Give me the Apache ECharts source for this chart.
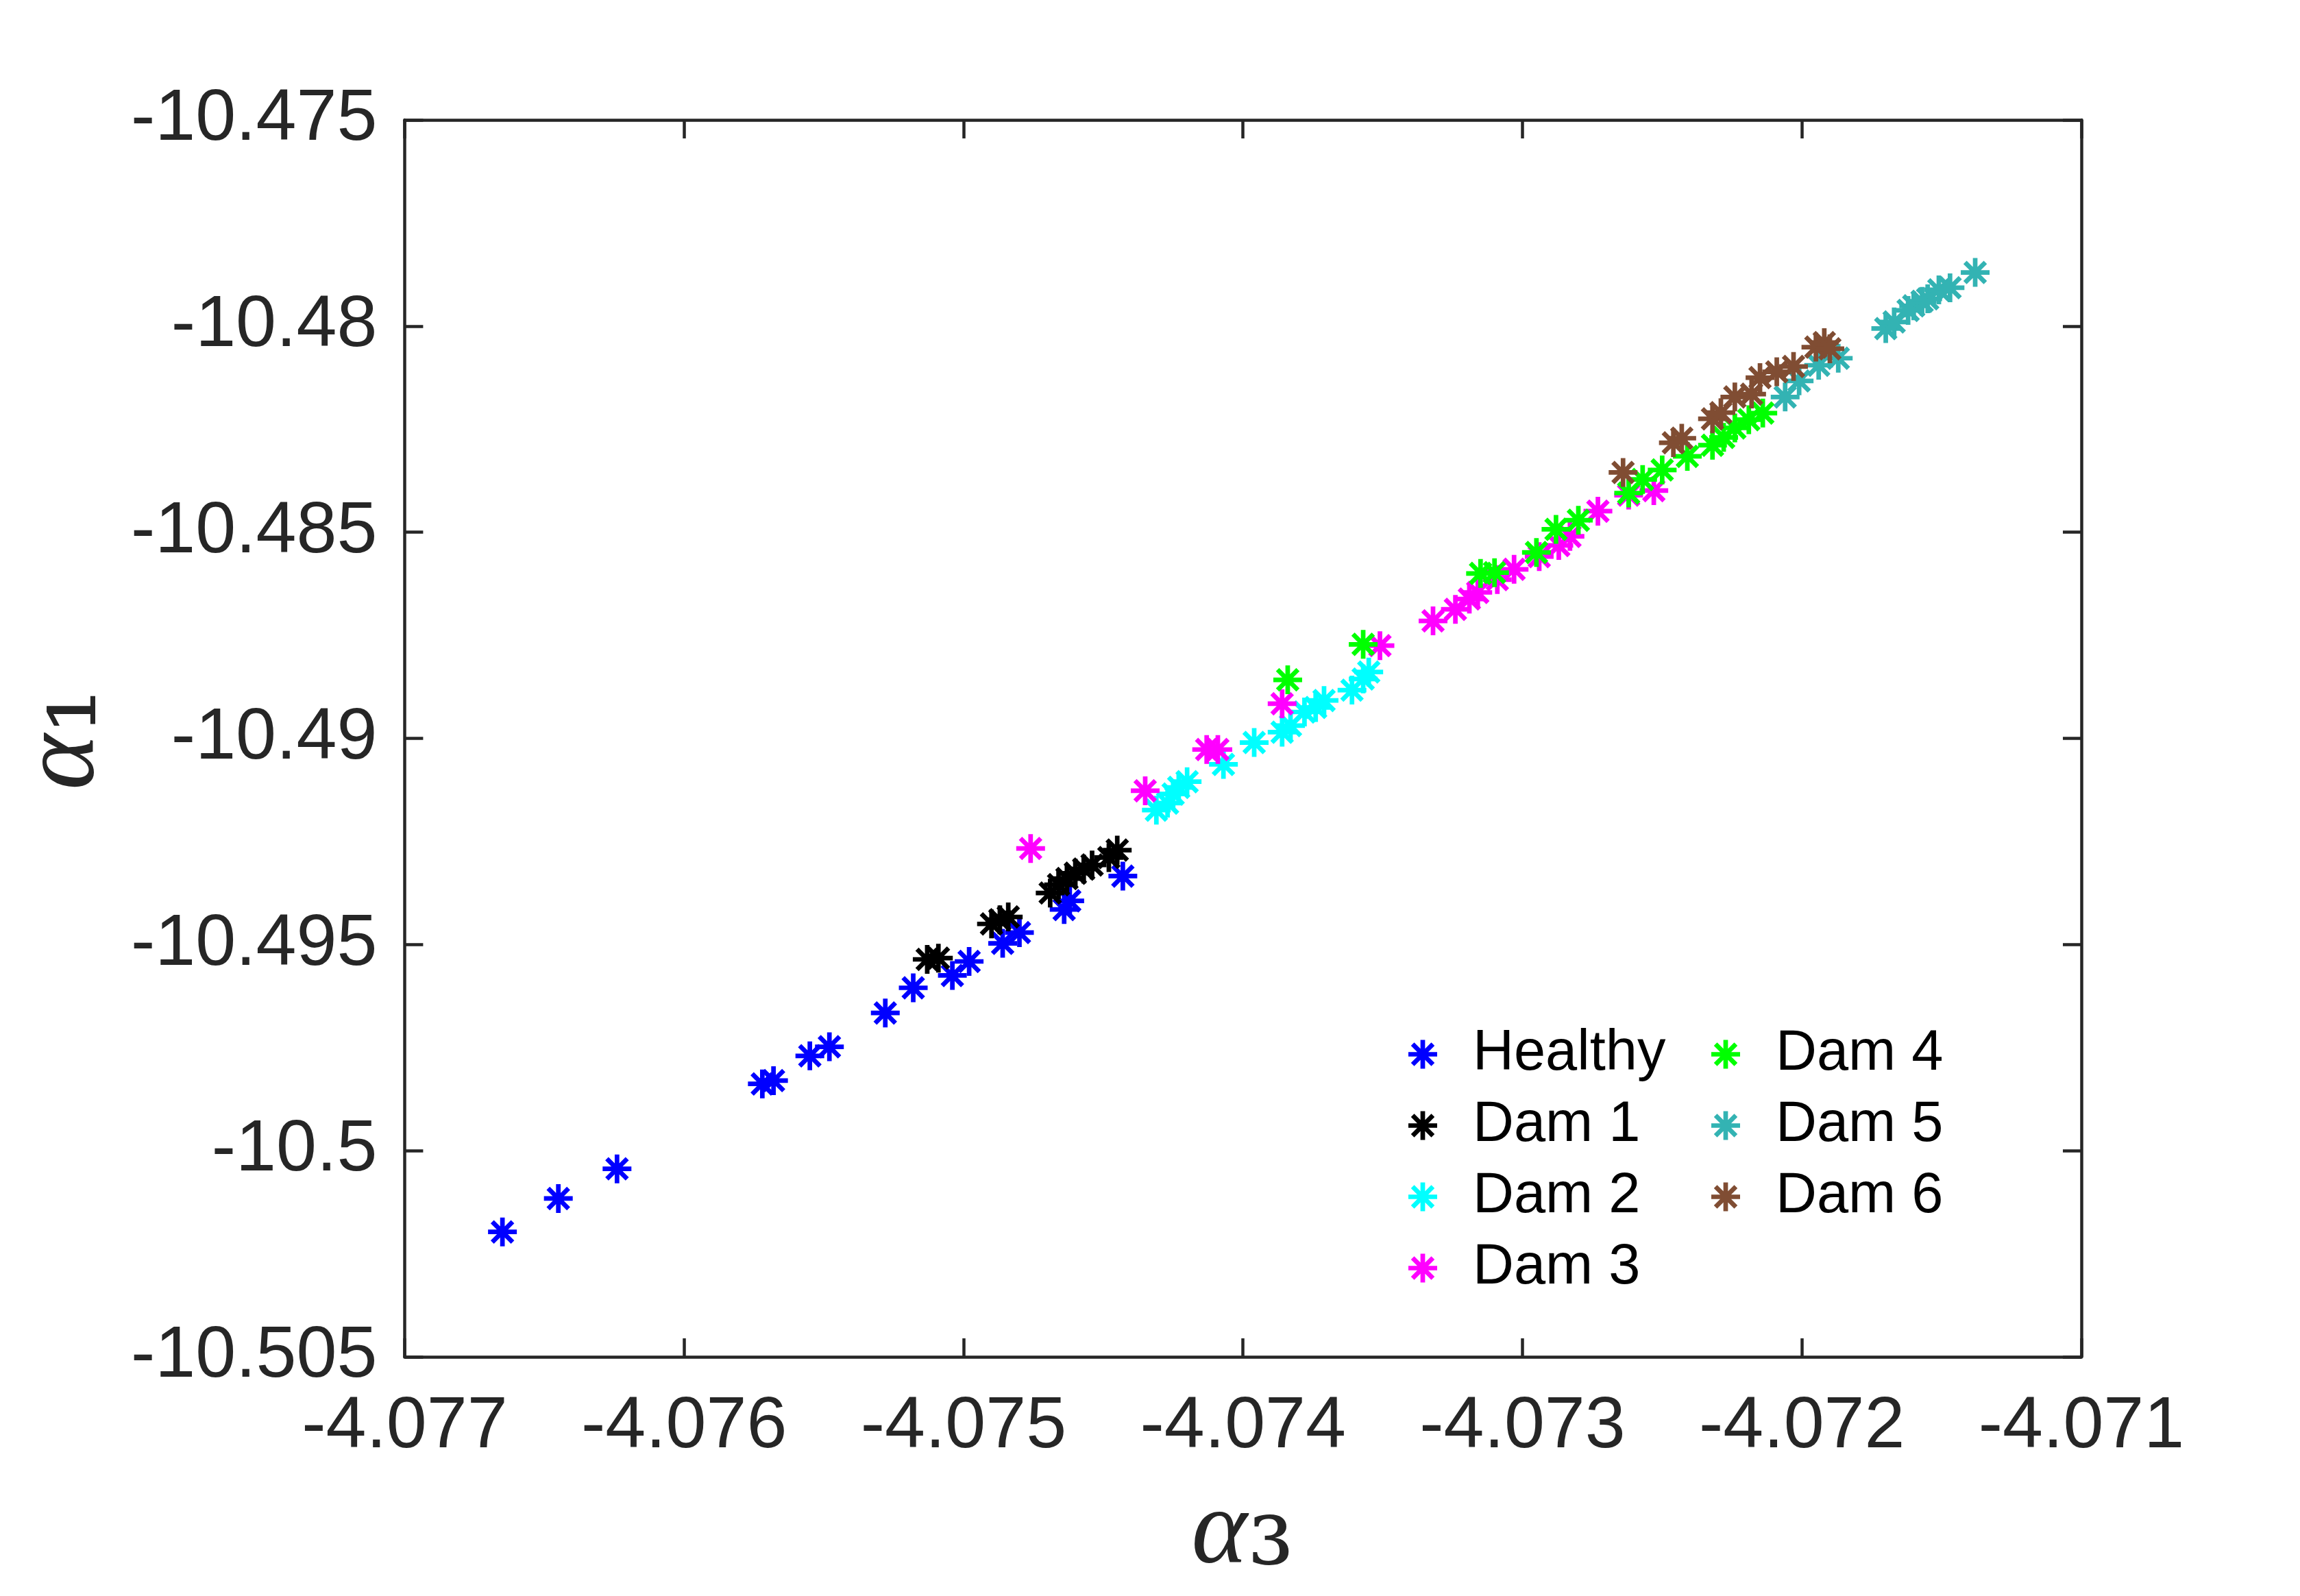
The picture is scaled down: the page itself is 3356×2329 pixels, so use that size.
<!DOCTYPE html>
<html>
<head>
<meta charset="utf-8">
<script src="https://cdn.jsdelivr.net/npm/echarts@6/dist/echarts.min.js"></script>
<style>
html,body{margin:0;padding:0;background:#fff;}
#chart{width:3356px;height:2329px;}
</style>
</head>
<body>
<div id="chart"></div>
<script>
// ---- data (alpha3, alpha1) ----
const seriesNames = ['Healthy','Dam 1','Dam 2','Dam 3','Dam 4','Dam 5','Dam 6'];
const seriesColors = ['#0000FF','#000000','#00FFFF','#FF00FF','#00FF00','#33B3B3','#804D33'];

const healthy = [
  [-4.07665,-10.50197],[-4.07645,-10.50116],[-4.07624,-10.50044],[-4.07572,-10.49838],
  [-4.07568,-10.49830],[-4.07555,-10.49770],[-4.07548,-10.49748],[-4.07528,-10.49666],
  [-4.07518,-10.49605],[-4.07504,-10.49575],[-4.07498,-10.49541],[-4.07486,-10.49497],
  [-4.07480,-10.49471],[-4.07464,-10.49415],[-4.07462,-10.49394],[-4.07443,-10.49334]
];
const dam1 = [
  [-4.07513,-10.49536],[-4.07509,-10.49533],[-4.07490,-10.49450],[-4.07487,-10.49440],
  [-4.07484,-10.49433],[-4.07469,-10.49375],[-4.07466,-10.49355],[-4.07463,-10.49340],
  [-4.07460,-10.49327],[-4.07457,-10.49317],[-4.07454,-10.49307],[-4.07448,-10.49289],
  [-4.07445,-10.49271]
];
const dam2 = [
  [-4.07431,-10.49174],[-4.07427,-10.49157],[-4.07425,-10.49135],[-4.07423,-10.49119],
  [-4.07420,-10.49105],[-4.07407,-10.49063],[-4.07396,-10.49010],[-4.07386,-10.48985],
  [-4.07383,-10.48969],[-4.07378,-10.48936],[-4.07374,-10.48925],[-4.07371,-10.48908],
  [-4.07361,-10.48883],[-4.07357,-10.48856],[-4.07355,-10.48839]
];
const dam3 = [
  [-4.07476,-10.49267],[-4.07435,-10.49127],[-4.07413,-10.49027],[-4.07409,-10.49027],
  [-4.07386,-10.48916],[-4.07351,-10.48775],[-4.07332,-10.48715],[-4.07324,-10.48687],
  [-4.07319,-10.48662],[-4.07316,-10.48646],[-4.07309,-10.48615],[-4.07303,-10.48590],
  [-4.07294,-10.48559],[-4.07287,-10.48532],[-4.07283,-10.48510],[-4.07273,-10.48449],
  [-4.07262,-10.48410],[-4.07253,-10.48399]
];
const dam4 = [
  [-4.07384,-10.48858],[-4.07357,-10.48772],[-4.07315,-10.48600],[-4.07310,-10.48598],
  [-4.07295,-10.48549],[-4.07288,-10.48493],[-4.07280,-10.48471],[-4.07262,-10.48405],
  [-4.07257,-10.48372],[-4.07250,-10.48349],[-4.07241,-10.48316],[-4.07232,-10.48289],
  [-4.07228,-10.48270],[-4.07224,-10.48247],[-4.07219,-10.48227],[-4.07214,-10.48211]
];
const dam5 = [
  [-4.07206,-10.48172],[-4.07201,-10.48133],[-4.07194,-10.48095],[-4.07187,-10.48078],
  [-4.07170,-10.48006],[-4.07167,-10.47990],[-4.07162,-10.47962],[-4.07160,-10.47951],
  [-4.07157,-10.47940],[-4.07155,-10.47934],[-4.07151,-10.47912],[-4.07147,-10.47907],
  [-4.07138,-10.47870]
];
const dam6 = [
  [-4.07264,-10.48355],[-4.07246,-10.48283],[-4.07243,-10.48272],[-4.07232,-10.48225],
  [-4.07229,-10.48210],[-4.07224,-10.48172],[-4.07218,-10.48165],[-4.07215,-10.48125],
  [-4.07209,-10.48111],[-4.07203,-10.48098],[-4.07195,-10.48051],[-4.07192,-10.48040],
  [-4.07190,-10.48055]
];
const seriesData = [healthy, dam1, dam2, dam3, dam4, dam5, dam6];

const xTicks = [-4.077,-4.076,-4.075,-4.074,-4.073,-4.072,-4.071];
const xTickLabels = ['-4.077','-4.076','-4.075','-4.074','-4.073','-4.072','-4.071'];
const yTicks = [-10.505,-10.5,-10.495,-10.49,-10.485,-10.48,-10.475];
const yTickLabels = ['-10.505','-10.5','-10.495','-10.49','-10.485','-10.48','-10.475'];

// ---- styling ----
const AX = '#262626';
const asterisk = 'path://M0 42L100 42L100 58L0 58Z' +
  'M42 0L58 0L58 100L42 100Z' +
  'M20.30 8.98L91.02 79.70L79.70 91.02L8.98 20.30Z' +
  'M79.70 8.98L91.02 20.30L20.30 91.02L8.98 79.70Z';

function nearestLabel(v, ticks, labels) {
  let best = 0, bd = Infinity;
  for (let i = 0; i < ticks.length; i++) {
    const d = Math.abs(ticks[i] - v);
    if (d < bd) { bd = d; best = i; }
  }
  return labels[best];
}

const nameRich = {
  a: {fontFamily: 'Liberation Serif', fontStyle: 'italic', fontSize: 155, lineHeight: 150, color: AX},
  s: {fontFamily: 'DejaVu Serif', fontSize: 172, lineHeight: 150, color: AX}
};

function axisCommon(extra) {
  return Object.assign({
    type: 'value',
    axisLine: {show: true, onZero: false, lineStyle: {color: AX, width: 4.5}},
    axisTick: {show: true, inside: true, length: 27, lineStyle: {color: AX, width: 4.5}},
    splitLine: {show: false},
    axisLabel: {show: false}
  }, extra);
}

const chart = echarts.init(document.getElementById('chart'), null, {renderer: 'canvas'});

const legendCommon = {
  orient: 'vertical',
  top: 1497,
  padding: 0,
  itemWidth: 42,
  itemHeight: 42,
  itemGap: 21,
  icon: asterisk,
  selectedMode: false,
  textStyle: {fontFamily: 'Liberation Sans', fontSize: 83, lineHeight: 83, color: '#000', padding: [0, 0, 0, 47]}
};

const option = {
  backgroundColor: '#ffffff',
  animation: false,
  grid: {left: 590, right: 319, top: 175, bottom: 347, containLabel: false},
  legend: [
    Object.assign({left: 2055, data: seriesNames.slice(0, 4)}, legendCommon),
    Object.assign({left: 2497, data: seriesNames.slice(4)}, legendCommon)
  ],
  xAxis: [
    axisCommon({
      position: 'bottom', min: -4.077, max: -4.071, interval: 0.001,
      axisLabel: {show: true, margin: 50, fontFamily: 'Liberation Sans', fontSize: 106, color: AX,
        formatter: v => nearestLabel(v, xTicks, xTickLabels)},
      name: '{a|α}{s|₃}', nameLocation: 'middle', nameGap: 183,
      nameTextStyle: {rich: nameRich}
    }),
    axisCommon({position: 'top', min: -4.077, max: -4.071, interval: 0.001})
  ],
  yAxis: [
    axisCommon({
      position: 'left', min: -10.505, max: -10.475, interval: 0.005,
      axisLabel: {show: true, margin: 40, fontFamily: 'Liberation Sans', fontSize: 106, color: AX,
        formatter: v => nearestLabel(v, yTicks, yTickLabels)},
      name: '{a|α}{s|₁}', nameLocation: 'middle', nameGap: 420,
      nameTextStyle: {rich: nameRich}
    }),
    axisCommon({position: 'right', min: -10.505, max: -10.475, interval: 0.005})
  ],
  series: seriesNames.map((n, i) => ({
    name: n,
    type: 'scatter',
    xAxisIndex: 0,
    yAxisIndex: 0,
    data: seriesData[i],
    symbol: asterisk,
    symbolSize: 42,
    itemStyle: {color: seriesColors[i], opacity: 1},
    emphasis: {disabled: true}
  }))
};

chart.setOption(option);
</script>
</body>
</html>
